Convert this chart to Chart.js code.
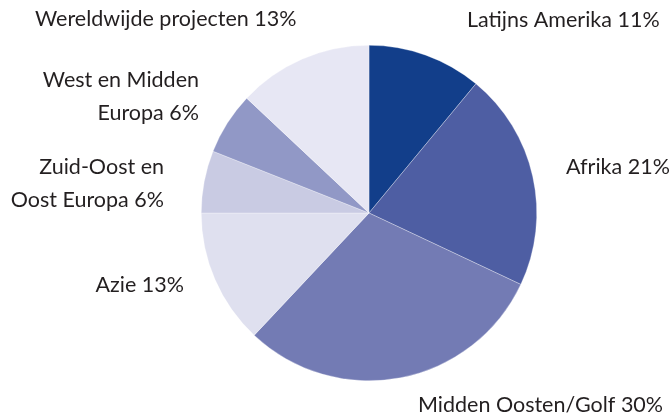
<!DOCTYPE html>
<html lang="nl">
<head>
<meta charset="UTF-8">
<title>Verdeling per regio</title>
<style>
  html, body { margin: 0; padding: 0; background: #fff; }
  #wrap { width: 671px; height: 417px; position: relative; }
</style>
<script src="https://cdn.jsdelivr.net/npm/chart.js"></script>
</head>
<body>
<div id="wrap"><canvas id="taart" width="671" height="417"></canvas></div>
<script>
// gegevens (met de klok mee, vanaf 12 uur)
const regios = ['Latijns Amerika', 'Afrika', 'Midden Oosten/Golf', 'Azie',
                'Zuid-Oost en Oost Europa', 'West en Midden Europa', 'Wereldwijde projecten'];
const percentages = [11, 21, 30, 13, 6, 6, 13];
const kleuren = ['#123e8a', '#4e5ea3', '#737bb4', '#dfe0ef', '#c9cbe3', '#9198c6', '#e7e7f4'];

// labelregels en plaats (x, y, uitlijning) — alleen opmaak
const labelRegels = [
  ['Latijns Amerika 11%'],
  ['Afrika 21%'],
  ['Midden Oosten/Golf 30%'],
  ['Azie 13%'],
  ['Zuid-Oost en', 'Oost Europa 6%'],
  ['West en Midden', 'Europa 6%'],
  ['Wereldwijde projecten 13%']
];
const labelPlaats = [
  [467, 20, 'left'],
  [566, 167, 'left'],
  [418, 405, 'left'],
  [184, 285, 'right'],
  [164, 167, 'right'],
  [199, 80, 'right'],
  [35, 19, 'left']
];

const labelsPlugin = {
  id: 'labels',
  afterDraw(chart) {
    const ctx = chart.ctx;
    ctx.save();
    ctx.fillStyle = '#231f20';
    ctx.font = '21.5px Lato';
    ctx.textBaseline = 'middle';
    labelRegels.forEach((regels, i) => {
      const [x, y, al] = labelPlaats[i];
      ctx.textAlign = al;
      regels.forEach((t, j) => ctx.fillText(t, x, y + j * 33));
    });
    ctx.restore();
  }
};

new Chart(document.getElementById('taart'), {
  type: 'pie',
  data: {
    labels: regios,
    datasets: [{
      data: percentages,
      backgroundColor: kleuren,
      borderColor: 'rgba(255,255,255,0.6)',
      borderWidth: 0.5
    }]
  },
  options: {
    responsive: false,
    animation: false,
    layout: { padding: { top: 45, bottom: 36, left: 201, right: 134 } },
    plugins: { legend: { display: false }, tooltip: { enabled: false } }
  },
  plugins: [labelsPlugin]
});
</script>
</body>
</html>
